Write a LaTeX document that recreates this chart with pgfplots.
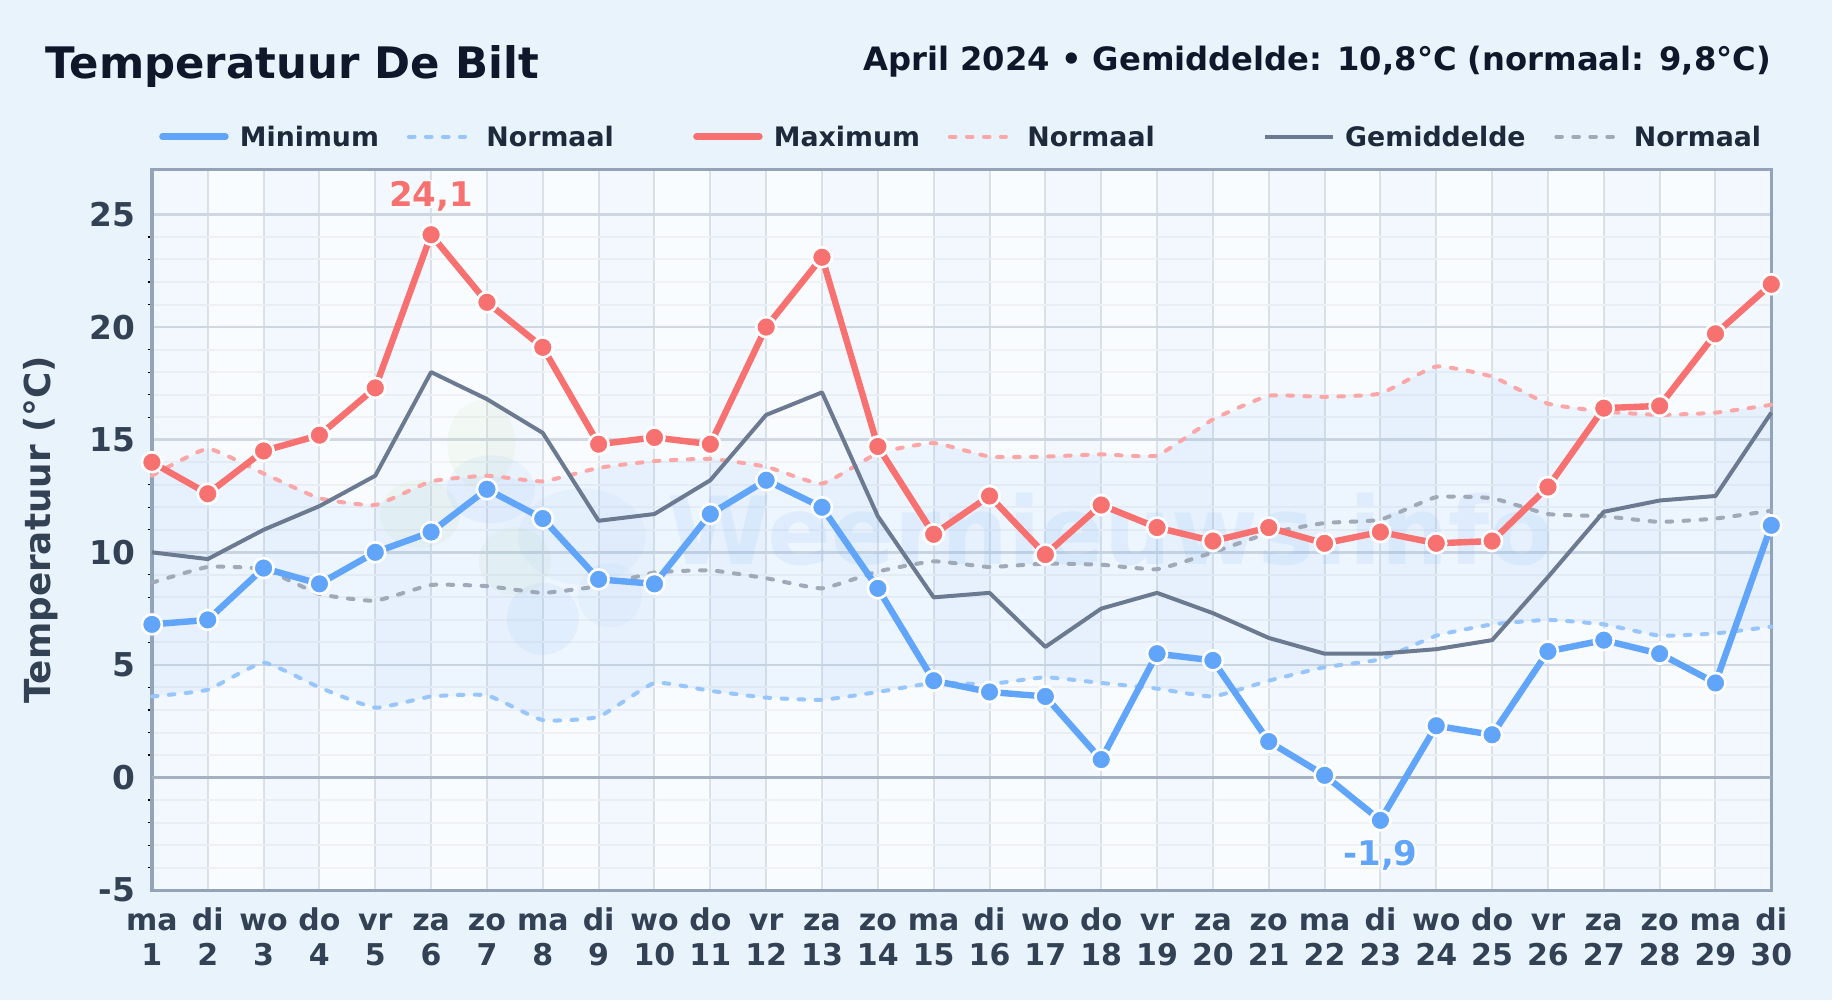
\documentclass[border=0pt]{standalone}
\usepackage{fontspec}
\setmainfont{DejaVu Sans}
\newfontface\halofont[FakeBold=9]{DejaVu Sans Bold}
\usepackage{pgfplots}
\pgfplotsset{compat=1.18}

\definecolor{pagebg}{HTML}{E9F3FC}
\definecolor{plotbg}{HTML}{F9FCFF}
\definecolor{minblue}{HTML}{60A5FA}
\definecolor{maxred}{HTML}{F87171}
\definecolor{avggrey}{HTML}{6B7A90}
\definecolor{inkdark}{HTML}{0F172A}
\definecolor{inklegend}{HTML}{1E293B}
\definecolor{inktick}{HTML}{334155}
\definecolor{frame}{HTML}{94A3B8}
\definecolor{logogreen}{HTML}{B9D98A}

\pgfplotstableread{
day tmin tmax tavg nmin nmax navg
1  6.8 14.0 10.0 3.6  13.4  8.65
2  7.0 12.6 9.7  3.9  14.6  9.35
3  9.3 14.5 11.0 5.1  13.5  9.25
4  8.6 15.2 12.05 4.0 12.4  8.15
5  10.0 17.3 13.4 3.1 12.1  7.85
6  10.9 24.1 18.0 3.6 13.15 8.55
7  12.8 21.1 16.8 3.65 13.4 8.5
8  11.5 19.1 15.3 2.55 13.15 8.2
9  8.8 14.8 11.4 2.7  13.75 8.5
10 8.6 15.1 11.7 4.2  14.05 9.1
11 11.7 14.8 13.2 3.85 14.15 9.2
12 13.2 20.0 16.1 3.55 13.8 8.85
13 12.0 23.1 17.1 3.45 13.05 8.4
14 8.4 14.7 11.6 3.8  14.4  9.15
15 4.3 10.8 8.0 4.2   14.85 9.6
16 3.8 12.5 8.2 4.15  14.25 9.35
17 3.6 9.9  5.8 4.45  14.25 9.5
18 0.8 12.1 7.5 4.2   14.35 9.45
19 5.5 11.1 8.2 3.95  14.3  9.25
20 5.2 10.5 7.3 3.6   15.9  10.0
21 1.6 11.1 6.2 4.3   16.95 10.85
22 0.1 10.4 5.5 4.9   16.9  11.3
23 -1.9 10.9 5.5 5.25 17.05 11.45
24 2.3 10.4 5.7 6.3   18.25 12.45
25 1.9 10.5 6.1 6.8   17.8  12.4
26 5.6 12.9 8.9 7.0   16.6  11.7
27 6.1 16.4 11.8 6.8  16.25 11.6
28 5.5 16.5 12.3 6.3  16.1  11.35
29 4.2 19.7 12.5 6.4  16.2  11.5
30 11.2 21.9 16.2 6.7 16.55 11.85
}\apriltable

% normal band as one closed outline: normal minimum forward, normal maximum back
\pgfplotstableread{
day temp
1 3.6
2 3.9
3 5.1
4 4.0
5 3.1
6 3.6
7 3.65
8 2.55
9 2.7
10 4.2
11 3.85
12 3.55
13 3.45
14 3.8
15 4.2
16 4.15
17 4.45
18 4.2
19 3.95
20 3.6
21 4.3
22 4.9
23 5.25
24 6.3
25 6.8
26 7.0
27 6.8
28 6.3
29 6.4
30 6.7
30 16.55
29 16.2
28 16.1
27 16.25
26 16.6
25 17.8
24 18.25
23 17.05
22 16.9
21 16.95
20 15.9
19 14.3
18 14.35
17 14.25
16 14.25
15 14.85
14 14.4
13 13.05
12 13.8
11 14.15
10 14.05
9 13.75
8 13.15
7 13.4
6 13.15
5 12.1
4 12.4
3 13.5
2 14.6
1 13.4
}\bandtable

% day name over day number, with a strut so all rows sit on one baseline
\newcommand{\dl}[2]{\rule{0pt}{11.5pt}#1\\#2}
% white halo round a label: position options, colour, text
\newcommand{\halotext}[3]{%
  \node[#1,text=white,font=\fontsize{17}{20}\selectfont\halofont] {#3};
  \node[#1,text=#2,font=\fontsize{17}{20}\selectfont\bfseries] {#3};
}

\begin{document}
\begin{tikzpicture}
\fill[pagebg] (0,0) rectangle (916pt,500pt);

\begin{axis}[
    at={(75.95pt,54.9pt)},
    anchor=south west,
    scale only axis,
    width=809.7pt,
    height=360.4pt,
    xmin=1, xmax=30,
    ymin=-5, ymax=27,
    clip=false,
    axis background/.style={fill=plotbg},
    axis line style={frame,line width=1.6pt},
    xtick={1,...,30},
    ytick={-5,0,...,25},
    xtick pos=bottom,
    ytick pos=left,
    minor y tick num=4,
    xticklabels={\dl{ma}{1},\dl{di}{2},\dl{wo}{3},\dl{do}{4},\dl{vr}{5},\dl{za}{6},\dl{zo}{7},\dl{ma}{8},\dl{di}{9},\dl{wo}{10},\dl{do}{11},\dl{vr}{12},\dl{za}{13},\dl{zo}{14},\dl{ma}{15},\dl{di}{16},\dl{wo}{17},\dl{do}{18},\dl{vr}{19},\dl{za}{20},\dl{zo}{21},\dl{ma}{22},\dl{di}{23},\dl{wo}{24},\dl{do}{25},\dl{vr}{26},\dl{za}{27},\dl{zo}{28},\dl{ma}{29},\dl{di}{30}},
    x tick label style={align=center,font=\fontsize{15}{17.5}\selectfont\bfseries,text=inktick,yshift=-5pt},
    y tick label style={font=\fontsize{16.4}{18}\selectfont\bfseries,text=inktick,xshift=-5pt},
    /pgf/number format/assume math mode=true,
    tick align=outside,
    major tick length=0pt,
    minor tick length=2.2pt,
    tick style={black,line width=.6pt},
    grid=both,
    major grid style={draw=white!58!frame,line width=1.2pt},
    minor grid style={draw=white!85!frame,line width=1pt},
    x grid style={draw=white!68!frame,line width=1pt},
    ylabel={Temperatuur (°C)},
    every axis y label/.style={at={(axis description cs:-0.069,0.5)},rotate=90,anchor=center},
    ylabel style={font=\fontsize{17.9}{20}\selectfont\bfseries,text=inktick},
    every axis plot/.append style={line join=round},
]
% alternating day columns
\pgfplotsinvokeforeach{1,3,...,29}{
  \fill[minblue,opacity=.035] (axis cs:#1,-5) rectangle (axis cs:#1+1,27);
}
% watermark blobs
\fill[minblue,opacity=.08] (axis cs:8,7.05) ellipse [x radius=18pt,y radius=18pt];
\fill[minblue,opacity=.05] (axis cs:9.2,8.1) ellipse [x radius=16pt,y radius=16pt];
\fill[logogreen,opacity=.10] (axis cs:6.9,14.8) ellipse [x radius=17pt,y radius=22pt];
\fill[logogreen,opacity=.09] (axis cs:5.8,11.7) ellipse [x radius=20pt,y radius=17pt];
\fill[logogreen,opacity=.09] (axis cs:7.5,9.6) ellipse [x radius=18pt,y radius=17pt];
\fill[minblue,opacity=.07] (axis cs:7.07,12.8) ellipse [x radius=22pt,y radius=17pt];
\fill[minblue,opacity=.05] (axis cs:8.7,10.7) ellipse [x radius=32pt,y radius=24pt];
\node[text=minblue,opacity=.10,font=\fontsize{47}{50}\selectfont\bfseries] at (axis cs:18.17,11) {Weernieuws.info};

% normal band
\addplot[fill=minblue,fill opacity=.08,draw=none,forget plot] table[x=day,y=temp] {\bandtable};

% zero line
\addplot[frame!85!white,line width=1.5pt,forget plot] coordinates {(1,0) (30,0)};

% normals
\addplot[minblue!65!white,line width=2pt,line cap=round,dash pattern=on 2.8pt off 5.7pt,smooth,tension=.25] table[x=day,y=nmin] {\apriltable};
\addplot[maxred!62!white,line width=2pt,line cap=round,dash pattern=on 2.8pt off 5.7pt,smooth,tension=.25] table[x=day,y=nmax] {\apriltable};
\addplot[avggrey!65!white,line width=2pt,line cap=round,dash pattern=on 2.8pt off 5.7pt,smooth,tension=.25] table[x=day,y=navg] {\apriltable};

% mean
\addplot[avggrey,line width=2pt] table[x=day,y=tavg] {\apriltable};

% minimum and maximum
\addplot[minblue,line width=3.2pt,mark=*,mark size=5pt,mark options={fill=minblue,draw=white,line width=1.3pt}] table[x=day,y=tmin] {\apriltable};
\addplot[maxred,line width=3.2pt,mark=*,mark size=5pt,mark options={fill=maxred,draw=white,line width=1.3pt}] table[x=day,y=tmax] {\apriltable};

\halotext{yshift=19.3pt,at={(axis cs:6,24.1)}}{maxred}{24,1}
\halotext{yshift=-17.5pt,at={(axis cs:23,-1.9)}}{minblue}{-1,9}
\end{axis}

% titles and legend, in pixels of the 1568 wide view
\begin{scope}[x=0.5842pt,y=-0.5842pt,yshift=500pt]
\node[anchor=base west,inner sep=0pt,text=inkdark,font=\fontsize{21.7}{24}\selectfont\bfseries] at (39,67) {Temperatuur De Bilt};
\node[anchor=base east,inner sep=0pt,text=inkdark,font=\fontsize{16.1}{18}\selectfont\bfseries] at (1516,60) {April 2024 • Gemiddelde: 10,8°C (normaal: 9,8°C)};
\tikzset{legtext/.style={anchor=base west,inner sep=0pt,text=inklegend,font=\fontsize{13.4}{16}\selectfont\bfseries},
  legdash/.style={line width=2pt,line cap=round,dash pattern=on 2.8pt off 5.7pt}}
\draw[minblue,line width=3.2pt,line cap=round] (139,117) -- (193,117);
\node[legtext] at (205,125) {Minimum};
\draw[minblue!65!white,legdash] (350,117) -- (398,117);
\node[legtext] at (416,125) {Normaal};
\draw[maxred,line width=3.2pt,line cap=round] (596,117) -- (650,117);
\node[legtext] at (662,125) {Maximum};
\draw[maxred!62!white,legdash] (813,117) -- (861,117);
\node[legtext] at (879,125) {Normaal};
\draw[avggrey,line width=2pt] (1083,117) -- (1141,117);
\node[legtext] at (1151,125) {Gemiddelde};
\draw[avggrey!65!white,legdash] (1332,117) -- (1386,117);
\node[legtext] at (1398,125) {Normaal};
\end{scope}
\end{tikzpicture}
\end{document}
